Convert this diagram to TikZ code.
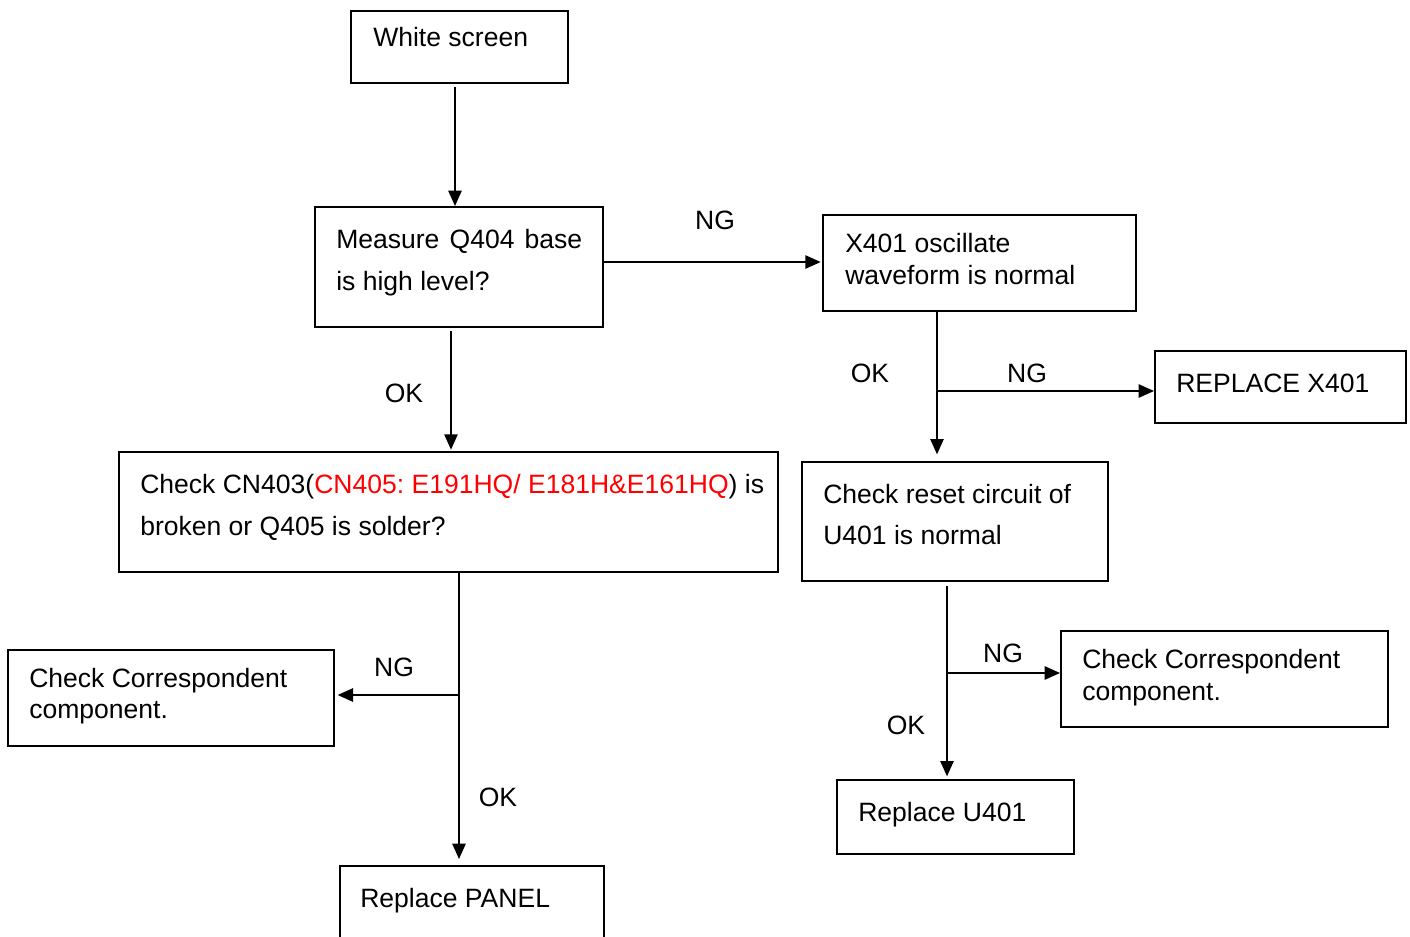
\documentclass[tikz,border=0pt]{standalone}
\usepackage{fontspec}
\setmainfont{Liberation Sans}
\usetikzlibrary{arrows.meta,fit}
\frenchspacing
\begin{document}
\begin{tikzpicture}[x=0.75pt,y=-0.75pt,
  box/.style={draw, line width=1.5pt, inner sep=0pt},
  txt/.style={anchor=base west, inner sep=0pt, font=\fontsize{19.9}{24}\selectfont},
  lbl/.style={inner sep=0pt, font=\fontsize{19.9}{24}\selectfont},
  arr/.style={line width=1.2pt, -{Triangle[length=11.5pt,width=10pt]}}]
\useasboundingbox (0,0) rectangle (1410,936);
\clip (0,0) rectangle (1410,936);
\fill[white] (0,0) rectangle (1410,936);

% boxes
\node[box, fit={(351,11) (568,83)}] (ws) {};
\node[box, fit={(315,207) (603,327)}] (meas) {};
\node[box, fit={(823,215) (1136,311)}] (x401) {};
\node[box, fit={(1155,351) (1406,423)}] (rx401) {};
\node[box, fit={(119,452) (778,572)}] (cn) {};
\node[box, fit={(802,462) (1108,581)}] (reset) {};
\node[box, fit={(8,650) (334,746)}] (ccl) {};
\node[box, fit={(1061,631) (1388,727)}] (ccr) {};
\node[box, fit={(837,780) (1074,854)}] (u401) {};
\node[box, fit={(340,866) (604,960)}] (panel) {};

% box texts
\node[txt] (wsT) at (373,46) {White screen};
\node[txt] (measT1) at (336,248) {\hbox to 184.5pt{Measure\hfill Q404\hfill base}};
\node[txt] (measT2) at (336,290) {is high level?};
\node[txt] (x401T1) at (845,252) {X401 oscillate};
\node[txt] (x401T2) at (845,284) {waveform is normal};
\node[txt] (rx401T) at (1176,392) {REPLACE X401};
\node[txt] (cnT1) at (140,493) {Check CN403(\textcolor{red}{CN405: E191HQ/ E181H\&E161HQ}) is};
\node[txt] (cnT2) at (140,535) {broken or Q405 is solder?};
\node[txt] (resetT1) at (823,503) {Check reset circuit of};
\node[txt] (resetT2) at (823,544) {U401 is normal};
\node[txt] (cclT1) at (29,687) {Check Correspondent};
\node[txt] (cclT2) at (29,718) {component.};
\node[txt] (ccrT1) at (1082,668) {Check Correspondent};
\node[txt] (ccrT2) at (1082,700) {component.};
\node[txt] (u401T) at (858,821) {Replace U401};
\node[txt] (panelT) at (360,907) {Replace PANEL};

% junction and column coordinates
\coordinate (c1) at (455,0);
\coordinate (c2) at (0,262);
\coordinate (c3) at (451,0);
\coordinate (j1) at (937,391);
\coordinate (j2) at (459,695);
\coordinate (j3) at (947,673);

% connectors
\draw[arr, shorten <=2pt] (ws.south -| c1) -- (meas.north -| c1);
\draw[arr, shorten >=1pt] (meas.east |- c2) -- (x401.west |- c2);
\draw[arr, shorten <=2pt, shorten >=1pt] (meas.south -| c3) -- (cn.north -| c3);
\draw[arr, shorten >=5pt] (x401.south -| j1) -- (reset.north -| j1);
\draw[arr] (j1) -- (rx401.west |- j1);
\draw[arr, shorten >=4.5pt] (cn.south -| j2) -- (panel.north -| j2);
\draw[arr, shorten >=2pt] (j2) -- (ccl.east |- j2);
\draw[arr, shorten <=3pt, shorten >=2pt] (reset.south -| j3) -- (u401.north -| j3);
\draw[arr] (j3) -- (ccr.west |- j3);

% branch labels
\node[lbl] (ng1) at (715,220) {NG};
\node[lbl] (ok1) at (404,393) {OK};
\node[lbl] (ok2) at (870,373) {OK};
\node[lbl] (ng2) at (1027,373) {NG};
\node[lbl] (ng3) at (394,667) {NG};
\node[lbl] (ok3) at (498,797) {OK};
\node[lbl] (ng4) at (1003,653) {NG};
\node[lbl] (ok4) at (906,725) {OK};
\end{tikzpicture}
\end{document}
